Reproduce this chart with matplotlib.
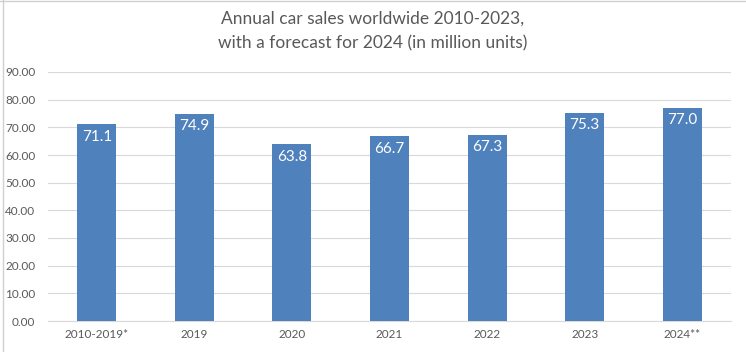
import matplotlib
matplotlib.use("Agg")
import matplotlib.pyplot as plt
from matplotlib.lines import Line2D

categories = ["2010-2019*", "2019", "2020", "2021", "2022", "2023", "2024**"]
values = [71.1, 74.9, 63.8, 66.7, 67.3, 75.3, 77.0]
yticks = [0, 10, 20, 30, 40, 50, 60, 70, 80, 90]

plt.rcParams['font.family'] = ['Lato', 'DejaVu Sans']

fig = plt.figure(figsize=(7.46, 3.52), dpi=100)
ax = fig.add_axes([48/746, 1-321/352, (731-48)/746, (321-72)/352])

x = range(len(categories))
bars = ax.bar(x, values, width=0.4, color="#4f81bd", zorder=3)
for xi, v in zip(x, values):
    ax.text(xi, v - 2.0, f"{v:.1f}", ha="center", va="top", color="white", fontsize=11)

ax.set_ylim(0, 90)
ax.set_xlim(-0.5, len(categories) - 0.5)
ax.set_yticks(yticks)
ax.set_yticklabels([f"{t:.2f}" for t in yticks], color="#595959", fontsize=8.5)
ax.set_xticks(list(x))
ax.set_xticklabels(categories, color="#595959", fontsize=8.5)
ax.tick_params(length=0, pad=6)
ax.tick_params(axis='y', pad=9)
ax.grid(axis="y", color="#d9d9d9", linewidth=0.8, zorder=0)
for s in ["top", "right", "left"]:
    ax.spines[s].set_visible(False)
ax.spines["bottom"].set_color("#d9d9d9")
ax.spines["bottom"].set_linewidth(0.8)

fig.text(0.5, 1-31/352, "Annual car sales worldwide 2010-2023,\nwith a forecast for 2024 (in million units)",
         ha="center", va="center", fontsize=12.5, color="#595959", linespacing=1.6)

# spreadsheet border artifacts
fig.add_artist(Line2D([3/746, 3/746], [0, 1], color="#d0d0d0", linewidth=1, transform=fig.transFigure))
fig.add_artist(Line2D([0, 1], [1-1/352, 1-1/352], color="#d0d0d0", linewidth=1, transform=fig.transFigure))

fig.savefig("out.png", dpi=100)
